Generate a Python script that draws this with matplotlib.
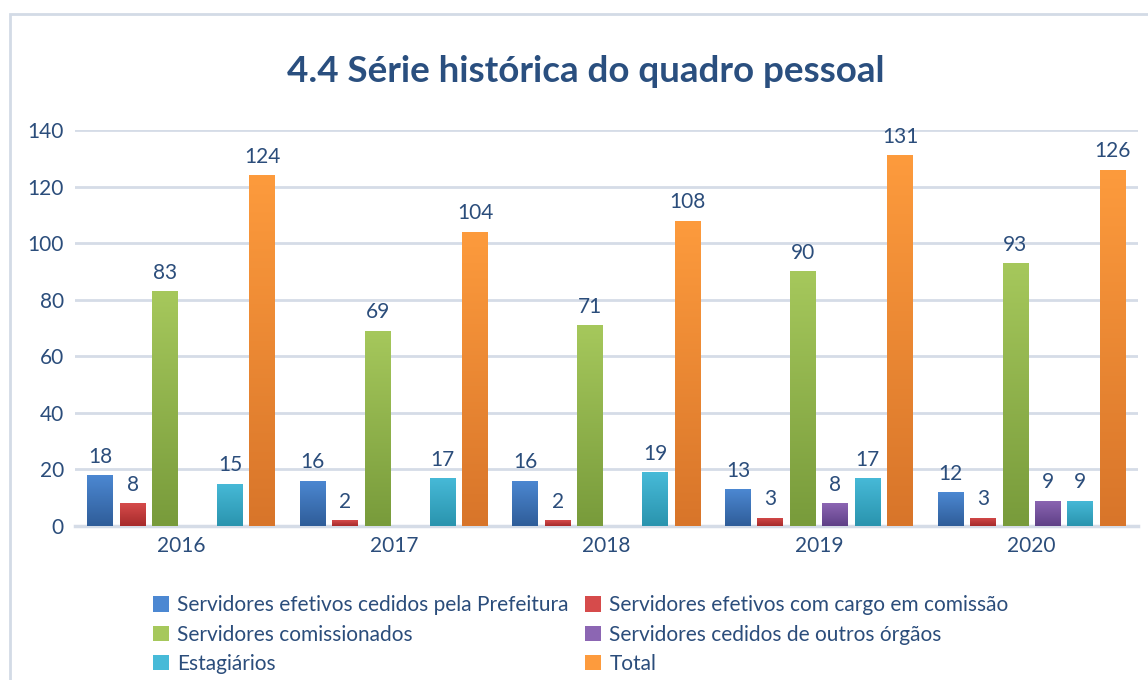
import numpy as np
import matplotlib.pyplot as plt
from matplotlib.colors import LinearSegmentedColormap
from matplotlib.patches import Rectangle, Patch

plt.rcParams['font.family'] = ['Lato', 'DejaVu Sans']

years = ['2016', '2017', '2018', '2019', '2020']
series_names = [
    'Servidores efetivos cedidos pela Prefeitura',
    'Servidores efetivos com cargo em comissão',
    'Servidores comissionados',
    'Servidores cedidos de outros órgãos',
    'Estagiários',
    'Total',
]
efetivos_prefeitura = [18, 16, 16, 13, 12]
efetivos_comissao = [8, 2, 2, 3, 3]
comissionados = [83, 69, 71, 90, 93]
cedidos_outros = [0, 0, 0, 8, 9]
estagiarios = [15, 17, 19, 17, 9]
total = [124, 104, 108, 131, 126]
all_series = [efetivos_prefeitura, efetivos_comissao, comissionados,
              cedidos_outros, estagiarios, total]

# (top colour, bottom colour) for the gradient fill
grad_colors = [
    ('#4c88d2', '#2f5d99'),
    ('#d64b4b', '#a62b2b'),
    ('#a6c85c', '#789b3b'),
    ('#8c66b3', '#5f4087'),
    ('#47bad8', '#2a94ae'),
    ('#fd9b3d', '#d8752a'),
]
text_color = '#2b4d7b'
grid_color = '#d5dce7'

fig = plt.figure(figsize=(11.48, 6.8), dpi=100)
fig.patches.append(Rectangle((10 / 1148, -0.1), 1.2, 1 - 14 / 680 + 0.1,
                             transform=fig.transFigure, fill=False,
                             edgecolor='#d3dbe6', linewidth=2))

ax = fig.add_axes([75 / 1148, 1 - 526 / 680, (1138 - 75) / 1148, (526 - 130) / 680])

x = np.arange(len(years))
slot = 0.1525
width = 0.122
grad = np.linspace(1, 0, 256).reshape(-1, 1)

for i, (vals, (c_top, c_bot)) in enumerate(zip(all_series, grad_colors)):
    offs = (i - 2.5) * slot
    bars = ax.bar(x + offs, vals, width, color=c_top, zorder=3)
    cmap = LinearSegmentedColormap.from_list('g%d' % i, [c_bot, c_top])
    for b, v in zip(bars, vals):
        if v == 0:
            continue
        bx, by = b.get_x(), b.get_y()
        bw, bh = b.get_width(), b.get_height()
        im = ax.imshow(grad, extent=[bx, bx + bw, by, by + bh], aspect='auto',
                       cmap=cmap, zorder=4, interpolation='bilinear')
        im.set_clip_path(b)
        ax.annotate(str(v), (bx + bw / 2, v), xytext=(0, 6), textcoords='offset points',
                    ha='center', va='bottom', fontsize=15, color=text_color, zorder=5)

ax.set_xlim(-0.5, len(years) - 0.5)
ax.set_ylim(0, 140)
ax.set_yticks(range(0, 141, 20))
ax.set_xticks(x)
ax.set_xticklabels(years)
ax.yaxis.grid(True, color=grid_color, linewidth=2, zorder=0)
ax.set_axisbelow(True)
for s in ['top', 'right', 'left']:
    ax.spines[s].set_visible(False)
ax.spines['bottom'].set_color(grid_color)
ax.spines['bottom'].set_linewidth(2.5)
ax.tick_params(axis='both', length=0, labelsize=15, colors=text_color)
ax.tick_params(axis='y', pad=8)
ax.tick_params(axis='x', pad=7)

fig.text(0.51, 1 - 82 / 680, '4.4 Série histórica do quadro pessoal', ha='center',
         va='baseline', fontsize=26.5, fontweight='bold', color='#2a4f7f')

handles = [Patch(facecolor=c[0], edgecolor='none') for c in grad_colors]
order = [0, 2, 4, 1, 3, 5]
leg = fig.legend([handles[k] for k in order], [series_names[k] for k in order],
                 ncol=2, loc='upper left', bbox_to_anchor=(145 / 1148, 1 - 587 / 680),
                 frameon=False, fontsize=15, handlelength=0.75, handleheight=0.75,
                 handletextpad=0.4, columnspacing=0.8, labelspacing=0.45,
                 borderaxespad=0)
for t in leg.get_texts():
    t.set_color(text_color)

fig.savefig('out.png', dpi=100)
